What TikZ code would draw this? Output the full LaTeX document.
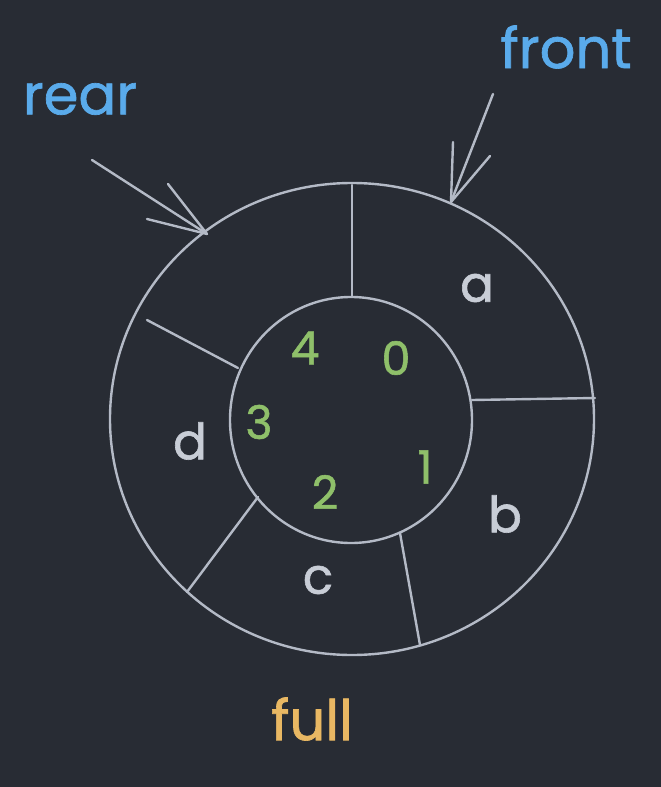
\documentclass[tikz,border=0pt]{standalone}
\usepackage{fontspec}
\setmainfont{Poppins}
\newfontfamily\hand{Poppins}[FakeBold=1.2]
\usetikzlibrary{shapes.geometric}
\definecolor{bg}{HTML}{282C34}
\definecolor{ink}{HTML}{B4BAC6}
\definecolor{lbl}{HTML}{C8CDD6}
\definecolor{grn}{HTML}{8FC06A}
\definecolor{blu}{HTML}{5AABEB}
\definecolor{ylw}{HTML}{E9B863}
\tikzset{
  sk/.style={draw=ink, line width=2.4pt, line cap=round, line join=round},
  ring/.style={sk, ellipse, inner sep=0pt},
  cell/.style={text=lbl, font=\hand\fontsize{50}{50}\selectfont},
  idx/.style={text=grn, font=\hand\fontsize{46}{46}\selectfont},
  ptr/.style={text=blu, font=\hand\fontsize{56}{56}\selectfont},
}
\begin{document}
\begin{tikzpicture}[x=1pt,y=-1pt]
\fill[bg] (0,0) rectangle (661,787);
\useasboundingbox (0,0) rectangle (661,787);
% rings
\node[ring, minimum width=484pt, minimum height=472pt] (outer) at (352,419) {};
\node[ring, minimum width=242pt, minimum height=246pt] (inner) at (351,420) {};
% dividers
\coordinate (t1) at (352,185); \coordinate (t2) at (352,296);
\coordinate (r1) at (472,400); \coordinate (r2) at (595,398);
\coordinate (br1) at (400,533); \coordinate (br2) at (420,645);
\coordinate (bl1) at (258,497); \coordinate (bl2) at (187,592);
\coordinate (ul1) at (147,320); \coordinate (ul2) at (238,368);
\draw[sk] (t1) -- (t2);
\draw[sk] (r1) -- (r2);
\draw[sk] (br1) -- (br2);
\draw[sk] (bl1) -- (bl2);
\draw[sk] (ul1) -- (ul2);
% cell contents
\node[cell] (a) at (477,288) {a};
\node[cell] (b) at (505,514) {b};
\node[cell] (c) at (318,580) {c};
\node[cell] (d) at (190,441) {d};
% indices
\node[idx] (i4) at (305,348) {4};
\node[idx] (i0) at (396,358) {0};
\node[idx] (i3) at (259,422) {3};
\node[idx] (i1) at (425,467) {1};
\node[idx] (i2) at (325,492) {2};
% pointers
\node[ptr] (front) at (566,47) {front};
\node[ptr] (rear) at (80,99) {rear};
\node[text=ylw, font=\hand\fontsize{56}{56}\selectfont] (full) at (312,719) {full};
% arrows
\coordinate (ft) at (493,94); \coordinate (fh) at (451,202);
\coordinate (fb1) at (453,142); \coordinate (fb2) at (490,156);
\draw[sk] (ft) -- (fh);
\draw[sk] (fb1) -- (fh) -- (fb2);
\coordinate (rt) at (92,160); \coordinate (rh) at (207,234);
\coordinate (rb1) at (168,184); \coordinate (rb2) at (147,219);
\draw[sk] (rt) -- (rh);
\draw[sk] (rb1) -- (rh) -- (rb2);
\end{tikzpicture}
\end{document}
